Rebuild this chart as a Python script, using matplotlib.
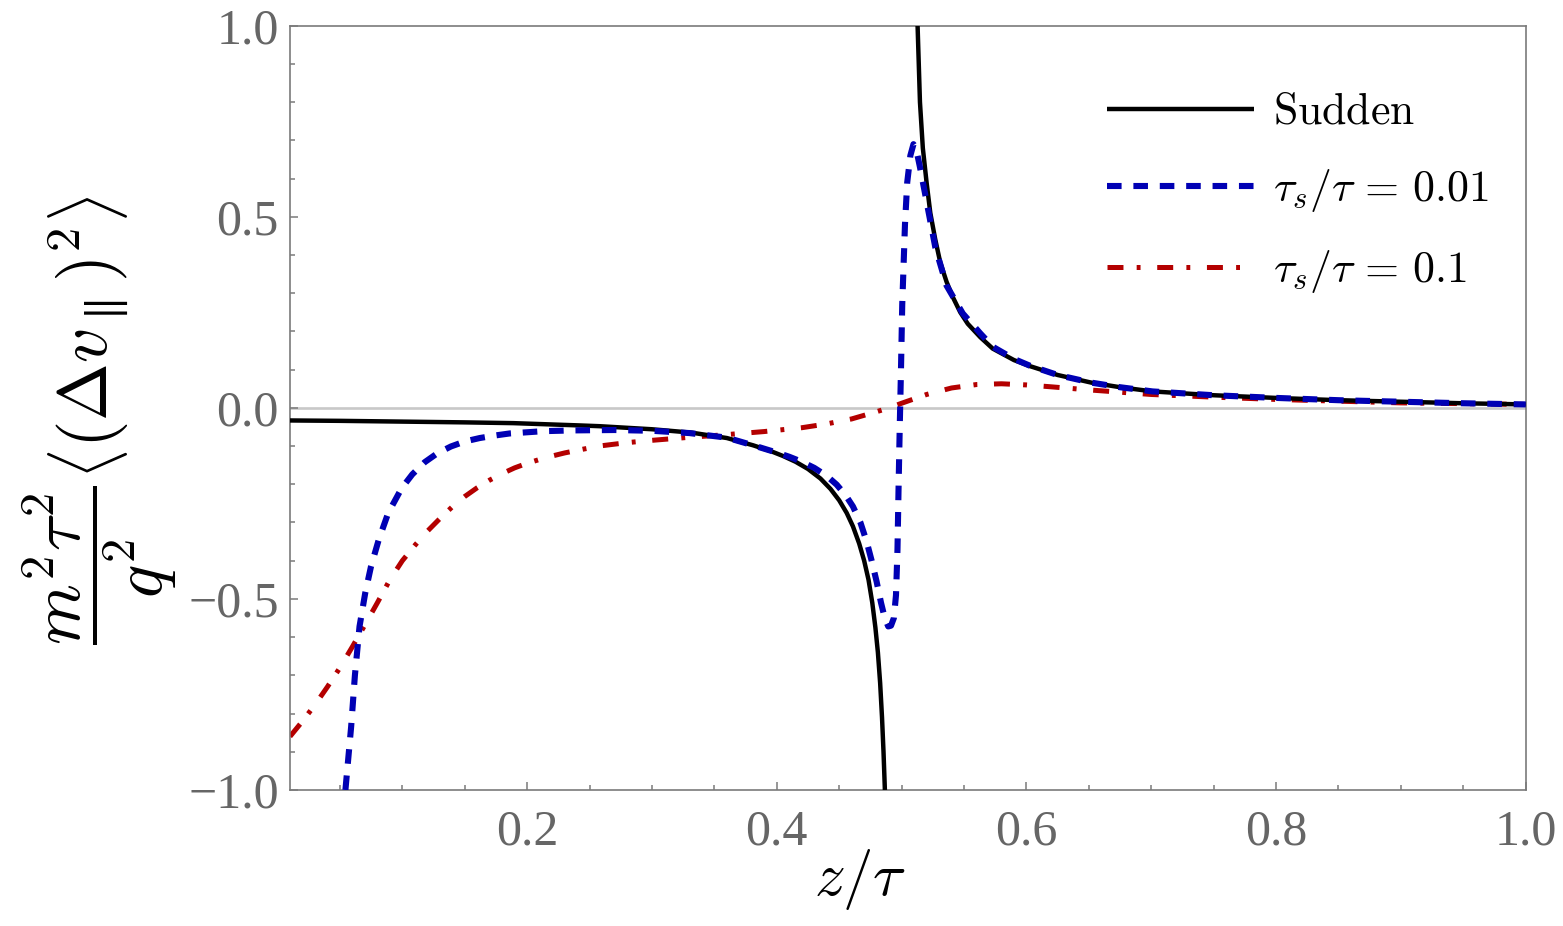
import matplotlib
matplotlib.use("Agg")
import matplotlib.pyplot as plt
from matplotlib.ticker import MultipleLocator, FixedLocator

# ---- data ----
sudden_z = [0.010, 0.050, 0.100, 0.150, 0.189, 0.242, 0.258, 0.300, 0.332, 0.360, 0.381,
            0.395, 0.405, 0.415, 0.425, 0.435, 0.443, 0.450, 0.456, 0.461, 0.466, 0.470,
            0.4735, 0.4765, 0.479, 0.481, 0.4828, 0.4843, 0.4855, 0.4866]
sudden_y = [-0.033, -0.034, -0.036, -0.038, -0.040, -0.046, -0.048, -0.056, -0.065, -0.079, -0.098,
            -0.113, -0.126, -0.141, -0.160, -0.185, -0.212, -0.242, -0.275, -0.310, -0.355, -0.400,
            -0.450, -0.510, -0.575, -0.640, -0.720, -0.810, -0.900, -1.000]
sudden_z2 = [0.5128, 0.5147, 0.517, 0.520, 0.523, 0.527, 0.531, 0.536, 0.541, 0.547, 0.553,
             0.563, 0.573, 0.590, 0.603, 0.625, 0.652, 0.675, 0.701, 0.750, 0.800,
             0.850, 0.900, 0.950, 1.000]
sudden_y2 = [1.000, 0.800, 0.680, 0.590, 0.510, 0.440, 0.380, 0.330, 0.290, 0.250, 0.220,
             0.185, 0.155, 0.125, 0.109, 0.086, 0.066, 0.054, 0.043, 0.033, 0.026,
             0.020, 0.016, 0.012, 0.009]

fast_z = [0.0544, 0.059, 0.062, 0.0657, 0.0703, 0.0749, 0.0811, 0.0887, 0.0995, 0.108,
          0.118, 0.128, 0.139, 0.150, 0.162, 0.175, 0.186, 0.213, 0.237, 0.270, 0.300,
          0.330, 0.360, 0.381, 0.400, 0.410, 0.420, 0.430, 0.440, 0.448, 0.455, 0.461,
          0.467, 0.472, 0.476, 0.480, 0.4835, 0.4865, 0.4893, 0.4915, 0.4938, 0.4955,
          0.4967, 0.4975, 0.4985, 0.4995, 0.5005, 0.5027, 0.5045, 0.507, 0.5095, 0.5115,
          0.5147, 0.520, 0.527, 0.536, 0.549, 0.563, 0.573, 0.590, 0.603, 0.625, 0.652,
          0.675, 0.701, 0.750, 0.800, 0.850, 0.900, 0.950, 1.000]
fast_y = [-1.000, -0.834, -0.700, -0.572, -0.484, -0.415, -0.345, -0.275, -0.210, -0.174,
          -0.142, -0.119, -0.101, -0.088, -0.079, -0.072, -0.067, -0.061, -0.059, -0.058, -0.060,
          -0.066, -0.078, -0.098, -0.117, -0.128, -0.141, -0.157, -0.178, -0.201, -0.228, -0.258,
          -0.300, -0.350, -0.400, -0.455, -0.510, -0.550, -0.572, -0.570, -0.550, -0.490,
          -0.370, -0.220, -0.050, 0.100, 0.270, 0.480, 0.590, 0.660, 0.690, 0.680,
          0.630, 0.540, 0.420, 0.320, 0.247, 0.195, 0.160, 0.128, 0.110, 0.086, 0.066,
          0.054, 0.043, 0.033, 0.026, 0.020, 0.016, 0.012, 0.009]

slow_z = [0.010, 0.020, 0.030, 0.040, 0.050, 0.060, 0.070, 0.080, 0.090, 0.100, 0.110,
          0.120, 0.130, 0.140, 0.150, 0.160, 0.170, 0.180, 0.190, 0.200, 0.215, 0.230,
          0.245, 0.260, 0.280, 0.300, 0.330, 0.360, 0.390, 0.420, 0.440, 0.460, 0.480,
          0.490, 0.500, 0.520, 0.540, 0.560, 0.580, 0.600, 0.620, 0.650, 0.700, 0.750,
          0.800, 0.900, 1.000]
slow_y = [-0.860, -0.820, -0.777, -0.730, -0.680, -0.625, -0.568, -0.510, -0.450, -0.400, -0.360,
          -0.323, -0.290, -0.259, -0.232, -0.209, -0.189, -0.172, -0.157, -0.145, -0.130, -0.118,
          -0.108, -0.099, -0.091, -0.085, -0.077, -0.070, -0.062, -0.052, -0.042, -0.029, -0.010,
          0.000, 0.012, 0.035, 0.052, 0.061, 0.063, 0.060, 0.055, 0.047, 0.035, 0.028,
          0.022, 0.013, 0.009]

labels = [r'$\mathrm{Sudden}$', r'$\tau_s/\tau\,=\,0.01$', r'$\tau_s/\tau\,=\,0.1$']
xticks = [0.2, 0.4, 0.6, 0.8, 1.0]
xticklabels = ['0.2', '0.4', '0.6', '0.8', '1.0']
yticks = [-1.0, -0.5, 0.0, 0.5, 1.0]
yticklabels = ['\u22121.0', '\u22120.5', '0.0', '0.5', '1.0']

plt.rcParams['mathtext.fontset'] = 'cm'
plt.rcParams['lines.scale_dashes'] = False

W, H = 1563, 926
fig = plt.figure(figsize=(W / 100, H / 100), dpi=100)
ax = fig.add_axes([290 / W, (H - 790) / H, (1525.7 - 290) / W, (790 - 25.7) / H])

ax.axhline(0.0, color='#c8c8c8', lw=1.9, zorder=1)

l1, = ax.plot(sudden_z, sudden_y, color='black', lw=3.2, solid_capstyle='butt', zorder=3)
ax.plot(sudden_z2, sudden_y2, color='black', lw=3.2, solid_capstyle='butt', zorder=3)
l2, = ax.plot(fast_z, fast_y, color='#0000b4', lw=4.4, dashes=(10.5, 8.5),
              dash_capstyle='butt', zorder=4)
l3, = ax.plot(slow_z, slow_y, color='#b40000', lw=3.6, dashes=(11.5, 9.5, 2.8, 12.0),
              dash_capstyle='butt', zorder=2)

ax.set_xlim(0.01, 1.0)
ax.set_ylim(-1.0, 1.0)

ax.xaxis.set_major_locator(FixedLocator(xticks))
ax.set_xticklabels(xticklabels)
ax.xaxis.set_minor_locator(MultipleLocator(0.05))
ax.yaxis.set_major_locator(FixedLocator(yticks))
ax.set_yticklabels(yticklabels)
ax.yaxis.set_minor_locator(MultipleLocator(0.1))

gray = '#7a7a7a'
for s in ax.spines.values():
    s.set_color(gray)
    s.set_linewidth(1.2)
ax.tick_params(which='both', direction='in', color=gray, width=1.1,
               top=False, right=False, labelcolor='#666666')
ax.tick_params(which='major', length=6)
ax.tick_params(which='minor', length=3.6)
ax.tick_params(axis='x', which='major', pad=14)
ax.tick_params(axis='y', which='major', pad=8)
for t in ax.get_xticklabels() + ax.get_yticklabels():
    t.set_fontfamily('Liberation Serif')
    t.set_fontsize(36)

ax.set_xlabel(r'$z/\tau$', fontsize=44)
ax.xaxis.set_label_coords((860 - 290) / (1525.7 - 290), -0.075)
ax.set_ylabel(r'$\dfrac{m^2\tau^2}{q^2}\left\langle\left(\Delta v_{\parallel}\right)^2\right\rangle$',
              fontsize=50, ha='center', va='center', rotation_mode='anchor')
ax.yaxis.set_label_coords((100 - 290) / (1525.7 - 290), (790 - 420) / (790 - 25.7))

leg = fig.legend([l1, l2, l3], labels, loc='upper left',
                 bbox_to_anchor=(1107 / W, 1 - 90 / H), bbox_transform=fig.transFigure,
                 frameon=False, fontsize=31.5, handlelength=3.35, handletextpad=0.45,
                 labelspacing=0.78, borderpad=0, borderaxespad=0)

fig.savefig('out.png', dpi=100)
